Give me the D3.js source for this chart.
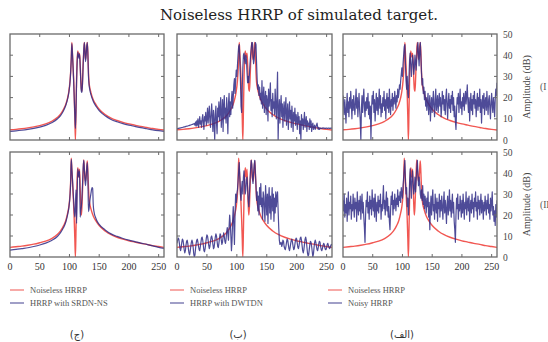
<!DOCTYPE html>
<html><head><meta charset="utf-8">
<script src="https://cdn.jsdelivr.net/npm/d3@7"></script>
<style>body{margin:0;background:#fff}svg{display:block}</style>
</head><body><svg id="c" width="548" height="342"></svg>
<script>
const title = "Noiseless HRRP of simulated target.";
const xTicks = [0, 50, 100, 150, 200, 250];
const yTicks = [0, 10, 20, 30, 40, 50];
const legendLabels = [["Noiseless HRRP", "HRRP with SRDN-NS"], ["Noiseless HRRP", "HRRP with DWTDN"], ["Noiseless HRRP", "Noisy HRRP"]];
const panelLabels = ["(ج)", "(ب)", "(الف)"];
const rowTags = ["(I", "(II"];
const yLabel = "Amplitude (dB)";

const cleanX = [0,10,20,30,40,50,60,70,80,85,90,94,97,99,101,102,103,104,105,106,107,108,109,110,111,112,113,114,115,116,117,118,119,120,121,122,123,124,125,126,127,128,129,130,131,132,133,134,136,140,145,150,160,170,180,190,200,210,220,230,240,250,259];
const clean1 = [4.8,5.0,5.3,5.7,6.2,6.8,7.6,8.8,10.7,12.2,14.5,17,20,23,28,32,38,46,41,35,29,21,11,0,14,29,38,42,40,39,41,36,29,24,23,28,36,42,46,42,38,40,44,46,41,32,27,25,22.5,19,16.5,14.5,12,10.3,9.2,8.3,7.6,7,6.4,5.9,5.4,5,4.7];
const srdn1 = [4.1,4.3,4.6,5,5.5,6.1,6.9,8.1,10,11.5,13.8,16.5,19.5,22.5,27.5,32,38,45.5,41,35,28,20,12,5.5,14,28,37,41.5,40,38.5,40.5,35,28,23,22.5,27,35,42,46,42,37,40,44,46,40,30,26,24,21.5,18.3,15.8,13.9,11.4,9.7,8.6,7.7,7,6.4,5.8,5.3,4.8,4.4,4.1];
const clean2 = [4.6,4.9,5.2,5.6,6.1,6.8,7.6,8.8,10.8,12.4,14.8,17.5,21,24,30,36,47,42,37,31,25,18,9,0,13,28,38,42.5,39,38,41.8,33,25,20,24,32,40,46.2,42,38,36,38,42,45.7,40,33,28,25.5,23,19.5,17,15,12.4,10.6,9.4,8.5,7.7,7.1,6.5,6,5.4,5,4.6];
const srdnX2 = [0,10,20,30,40,50,60,70,80,85,90,94,97,99,101,102,103,104,105,106,107,108,109,110,111,112,113,114,115,116,117,118,119,120,121,122,123,124,125,126,127,128,129,130,131,132,133,134,136,138,139,140,141,145,150,160,170,180,190,200,210,220,230,240,250,259];
const srdn2 = [3.3,3.6,4,4.4,5,5.7,6.6,7.9,9.9,11.6,14,16.8,20.3,23.5,29.5,35.5,46.5,42,37,32,27,22,19,24,32,16,30,42,40,38,41,19,22,24,28,35,42,46,42,37,34,38,42,45,38,21.6,23,26,30,33,32.7,25,22,18,15.5,12.9,11,9.8,8.8,8,7.3,6.6,6,5.3,4.6,4.1];

const dwt1 = [5.4,5.4,5.5,5.5,5.6,5.6,5.7,5.8,5.8,5.9,6,6.1,6.2,6.2,6.3,6.4,6.5,6.5,6.6,6.7,6.8,6.9,7,7.1,7.2,7.3,7.4,7.5,7.6,7.7,
7,8.5,6.5,9,7,10,6,8,11,7.5,9,6,10,12,8,5,11,9,13,7,
10,15,8,12,16,9,6,13,17,10,4,14,9,0,12,16,8,3,15,11,
18,9,14,20,6,12,19,4,16,21,10,15,8,20,13,3,17,22,11,18,
12,19,23,15,20,26,29,22,28,33,
30,35,40,44,45,38,28,16,13,24,34,40,41,38,36,40,38,32,27,30,
27,31,36,40,43,46,46,40,36,38,43,46,45,36,28,24,26,21,25,19,
22,17,28,15,20,25,13,19,23,12,21,18,9,24,16,20,27,14,19,11,
22,15,18,12,24,17,10,20,32,0,14,19,8,16,21,11,17,6,14,18,
9,15,20,7,13,17,5,12,18,10,14,6,16,11,4,13,9,15,7,12,
10,5,13,8,11,3,9,0,12,7,10,5,9,13,6,8,11,4,9,7,
8,5,10,6,9,4,7,8,5,6,7,5,6,7,8,6,5,6,5,5.5,
5.6,5.5,5.5,5.6,5.7,5.6,5.6,5.5,5.5,5.6,5.6,5.5,5.5,5.6,5.6,5.5,5.5,5.6,5.6,5.5];
const dwt2 = [6.5,8,9,8.5,6.5,4,3,4.5,7,8.5,8,6,3.5,2,3,5.5,7.5,8,6.5,4,
2,1,2.5,5,7,8,7,4.5,1.5,0,1,4,6.5,8,8.5,7,5,3.5,3,5,
7,9,9.5,8,5.5,3,2.5,4,6.5,9,10.5,10,8,5.5,4,5,7.5,9.5,10,8.5,
6,4,4.5,7,9.5,11,10,7.5,5,4.5,6.5,9,11,10.5,8,6,7,9.5,11.5,10,
7.5,6.5,8.5,12,14,11,8,14,20,16,10,3,8,18,24,15,6,20,30,26,
30,32,36,41,45,38,30,27,33,36,30,38,41,36,30,32,37,38,33,27,
24,30,37,42,46,44,38,35,40,44,46,40,34,27,31,22,29,20,33,25,
35,24,28,18,31,29,22,17,34,27,20,30,16,28,33,21,29,18,26,33,
22,30,17,28,21,31,24,29,31,22,14,8,6,6.5,7,5,6,8,7.5,5,
4,3.5,5,7,8.5,8,6,4,3,4.5,6.5,8,8.5,7,5,3.5,4,6,8,9,
8.5,6.5,4.5,4,5.5,7.5,9,9.5,8,5.5,3,2,3.5,6,8.5,9.5,8,5,2,0.5,
1,3.5,6,7.5,7,5,2.5,0,1.5,4.5,7,8,7,5,3.5,3,4.5,6.5,7.5,7,
5,3.5,3,4,5.5,6.5,6,4.5,3.5,3.5,4.5,6,6.5,5.5,4.5,4,4.5,5.5,6,5.5];
const noisy1 = [21,17,12,19,14,8,16,22,13,18,11,20,15,23,17,10,19,14,21,16,
12,18,24,15,20,11,17,22,14,9,0,15,21,13,19,24,16,11,18,14,
20,15,22,12,18,10,16,0,14,21,17,23,13,19,9,16,22,14,20,12,
18,24,15,21,11,17,13,20,16,23,14,19,10,18,22,15,20,13,24,17,
12,19,16,22,14,20,17,23,19,15,21,18,24,20,22,26,24,28,31,34,
30,36,40,44,45,36,28,24,30,22,20,30,38,41,35,30,36,40,37,31,
34,40,37,33,38,44,46,40,35,42,46,39,32,26,29,22,25,19,23,16,
20,14,18,22,12,17,21,9,16,20,13,18,23,15,11,19,24,14,17,21,
13,18,22,16,20,11,15,23,17,21,14,19,12,20,24,16,10,18,22,15,
19,13,21,17,23,14,20,11,16,9,5,14,20,17,22,13,19,24,15,18,
12,20,16,22,14,19,23,17,21,26,18,13,20,9,16,22,14,19,12,21,
17,23,15,19,11,18,22,14,20,16,24,13,19,8,17,21,15,22,12,18,
20,14,23,17,12,19,21,15,10,18,22,16,13,20,17,11,19,24,21,27];
const noisy2 = [27,22,30,19,25,21,28,17,24,31,20,26,23,29,18,25,22,30,24,19,
28,23,26,17,31,24,20,27,22,29,18,25,30,21,26,19,14,7,20,27,
24,31,21,26,18,29,23,27,20,32,25,22,28,19,30,24,17,26,22,29,
21,27,24,30,18,25,22,28,34,23,27,20,26,31,22,28,19,24,17,13,
22,29,25,31,20,27,23,30,26,22,28,25,32,24,29,27,31,26,33,30,
28,34,38,42,46,36,30,33,24,28,20,26,36,42,34,28,38,41,35,30,
33,38,31,36,42,46,40,34,38,35,30,28,32,27,34,25,30,23,29,26,
21,28,24,31,19,26,13,23,29,20,27,32,22,25,18,30,24,21,28,17,
26,23,30,19,27,22,29,24,18,26,31,21,27,23,16,25,29,20,24,32,
22,27,19,25,30,21,26,17,13,7,20,28,23,30,18,25,22,29,24,19,
27,21,30,24,18,26,23,31,20,25,28,22,29,17,24,27,21,30,23,26,
19,28,24,31,22,26,18,29,23,27,20,25,30,21,27,24,18,26,22,29,
24,20,27,23,30,21,25,18,28,22,26,31,20,24,17,22,15,25,19,27];

const RED = "#f0453f", BLUE = "#2f2c86", FRAME = "#6a6a6a";
const svg = d3.select("#c");
const serif = "'Liberation Serif','DejaVu Serif',serif";

svg.append("text").attr("x", 299).attr("y", 20).attr("text-anchor", "middle")
  .attr("font-family", "'DejaVu Serif',serif").attr("font-size", 15).attr("fill", "#222").text(title);

const cols = [{x0: 10, x1: 164}, {x0: 177, x1: 332}, {x0: 343, x1: 497}];
const rows = [{y0: 34, y1: 140}, {y0: 152, y1: 257}];
const pts = (xs, ys) => ys.map((v, i) => [xs ? xs[i] : i, v]);
const panels = [
  [[pts(cleanX, clean1), pts(cleanX, srdn1)], [pts(cleanX, clean1), pts(null, dwt1)], [pts(cleanX, clean1), pts(null, noisy1)]],
  [[pts(cleanX, clean2), pts(srdnX2, srdn2)], [pts(cleanX, clean2), pts(null, dwt2)], [pts(cleanX, clean2), pts(null, noisy2)]]
];

const defs = svg.append("defs");
rows.forEach((r, ri) => cols.forEach((c, ci) => {
  const x = d3.scaleLinear().domain([0, 259]).range([c.x0, c.x1]);
  const y = d3.scaleLinear().domain([0, 50]).range([r.y1, r.y0]);
  const id = `clip${ri}${ci}`;
  defs.append("clipPath").attr("id", id).append("rect")
    .attr("x", c.x0).attr("y", r.y0).attr("width", c.x1 - c.x0).attr("height", r.y1 - r.y0);
  const g = svg.append("g");
  const lg = g.append("g").attr("clip-path", `url(#${id})`);
  const [red, blue] = panels[ri][ci];
  const smooth = d3.line().x(d => x(d[0])).y(d => y(d[1])).curve(d3.curveMonotoneX);
  const lin = d3.line().x(d => x(d[0])).y(d => y(d[1]));
  lg.append("path").attr("d", smooth(red)).attr("fill", "none").attr("stroke", RED).attr("stroke-width", 1.4).attr("stroke-opacity", 0.9);
  lg.append("path").attr("d", ci === 0 ? smooth(blue) : lin(blue)).attr("fill", "none").attr("stroke", BLUE)
    .attr("stroke-width", 1.2).attr("stroke-opacity", 0.85).attr("stroke-linejoin", "round");
  g.append("rect").attr("x", c.x0).attr("y", r.y0).attr("width", c.x1 - c.x0).attr("height", r.y1 - r.y0)
    .attr("fill", "none").attr("stroke", FRAME).attr("stroke-width", 1.3);
  const tk = g.append("g").attr("stroke", FRAME).attr("stroke-width", 1);
  xTicks.filter(t => t > 0).forEach(t => {
    tk.append("line").attr("x1", x(t)).attr("x2", x(t)).attr("y1", r.y0).attr("y2", r.y0 + 3);
    tk.append("line").attr("x1", x(t)).attr("x2", x(t)).attr("y1", r.y1).attr("y2", r.y1 - 3);
  });
  yTicks.filter(t => t > 0 && t < 50).forEach(t => {
    tk.append("line").attr("x1", c.x0).attr("x2", c.x0 + 3).attr("y1", y(t)).attr("y2", y(t));
    tk.append("line").attr("x1", c.x1).attr("x2", c.x1 - 3).attr("y1", y(t)).attr("y2", y(t));
  });
  if (ri === 1) {
    xTicks.forEach(t => g.append("text").attr("x", x(t)).attr("y", 270).attr("text-anchor", "middle")
      .attr("font-family", serif).attr("font-size", 10).attr("fill", "#333").text(t));
  }
  if (ci === 2) {
    yTicks.forEach(t => g.append("text").attr("x", 503).attr("y", y(t) + 3.5)
      .attr("font-family", serif).attr("font-size", 9.5).attr("fill", "#444").text(t));
    const my = (r.y0 + r.y1) / 2;
    g.append("text").attr("transform", `translate(530,${my}) rotate(-90)`).attr("text-anchor", "middle")
      .attr("font-family", serif).attr("font-size", 10).attr("fill", "#444").text(yLabel);
    g.append("text").attr("x", 540).attr("y", my + 3).attr("font-family", serif).attr("font-size", 9.5)
      .attr("fill", "#555").text(rowTags[ri]);
  }
}));

const legX = [10, 170, 328];
legX.forEach((lx, i) => {
  [RED, BLUE].forEach((col, j) => {
    const ly = 290 + j * 13;
    svg.append("line").attr("x1", lx).attr("x2", lx + 14).attr("y1", ly).attr("y2", ly)
      .attr("stroke", col).attr("stroke-width", 1.3).attr("stroke-opacity", 0.7);
    svg.append("text").attr("x", lx + 20).attr("y", ly + 3).attr("font-family", serif)
      .attr("font-size", 8.5).attr("fill", "#555").text(legendLabels[i][j]);
  });
});
const labX = [77, 238, 402];
labX.forEach((lx, i) => svg.append("text").attr("x", lx).attr("y", 338).attr("text-anchor", "middle")
  .attr("font-family", "'DejaVu Sans',serif").attr("font-size", 10).attr("fill", "#333").text(panelLabels[i]));
</script></body></html>
